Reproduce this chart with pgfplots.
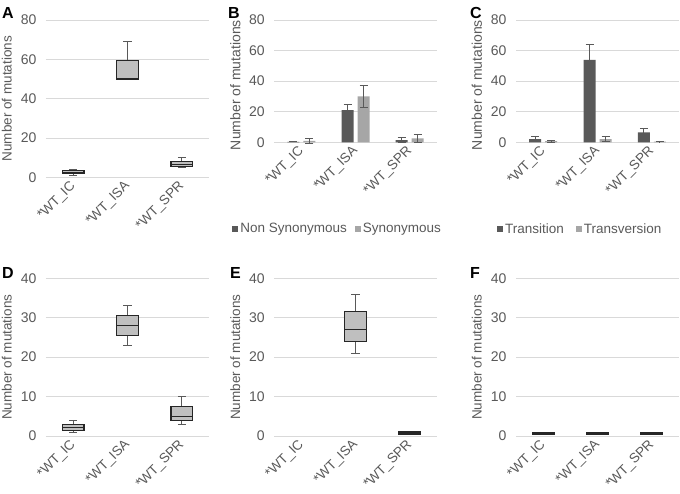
\documentclass[border=0pt]{standalone}
\usepackage{fontspec}
\setmainfont{Liberation Sans}
\usepackage{pgfplots}
\pgfplotsset{compat=1.18}
\usepgfplotslibrary{statistics}
\definecolor{gridc}{HTML}{D9D9D9}
\definecolor{txt}{HTML}{595959}
\definecolor{darkbar}{HTML}{595959}
\definecolor{lightbar}{HTML}{A6A6A6}
\definecolor{boxfill}{HTML}{BFBFBF}
\definecolor{boxedge}{HTML}{262626}
\definecolor{whisk}{HTML}{595959}
\pgfplotsset{
  panel/.style={
    scale only axis, anchor=south west,
    xmin=-0.5, xmax=2.5, ymin=0,
    xtick={0,1,2}, xticklabels={*WT\_IC,*WT\_ISA,*WT\_SPR},
    axis line style={draw=none},
    major tick length=0pt,
    ymajorgrids, grid style={gridc, line width=0.9pt},
    tick label style={font=\fontsize{14}{16}\selectfont, text=txt},
    /pgf/number format/assume math mode=true,
    yticklabel style={xshift=-6pt},
    xticklabel style={yshift=-6pt, xshift=1pt, rotate=45, anchor=east, inner sep=1pt, font=\fontsize{13.5}{15}\selectfont},
    ylabel={Number of mutations},
    every axis y label/.style={at={(axis description cs:-0.24,0.5)}, rotate=90, anchor=center, font=\fontsize{13.5}{15}\selectfont, text=txt},
    clip=false,
    boxplot/draw direction=y,
    boxplot/every box/.style={draw=boxedge, fill=boxfill, line width=1.2pt},
    boxplot/every whisker/.style={draw=whisk, line width=1pt},
    boxplot/every median/.style={draw=boxedge, line width=1.2pt},
    boxplot/box extend=0.4,
    boxplot/whisker extend=0.15,
  },
  barpanel/.style={
    panel, ybar=4pt, bar width=12pt,
    legend columns=2, legend cell align=left,
    legend image code/.code={\fill[##1] (0pt,-3pt) rectangle (6pt,3pt);},
    every axis y label/.append style={at={(axis description cs:-0.24,0.468)}, font=\fontsize{14}{16}\selectfont},
  },
  errs/.style={error bars/.cd, y dir=both, y explicit,
    error bar style={draw=whisk, line width=1pt},
    error mark options={rotate=90, mark size=4pt, draw=whisk, line width=1pt}},
}
\begin{document}
\begin{tikzpicture}
\useasboundingbox (0pt,0pt) rectangle (680pt,493pt);
% ---------- A ----------
\begin{axis}[panel, at={(46pt,315.7pt)}, width=163pt, height=157.3pt,
  ymax=80, ytick={0,20,40,60,80}]
\addplot[boxplot prepared={draw position=0, lower whisker=1, lower quartile=2, median=2.6, upper quartile=3.5, upper whisker=4}] coordinates {};
\addplot[boxplot prepared={draw position=1, lower whisker=50, lower quartile=50, median=50, upper quartile=59.6, upper whisker=69}] coordinates {};
\addplot[boxplot prepared={draw position=2, lower whisker=5, lower quartile=5.4, median=6.5, upper quartile=8.1, upper whisker=10}] coordinates {};
\end{axis}
% ---------- B ----------
\begin{axis}[barpanel, at={(274.3pt,350.7pt)}, width=162.4pt, height=122.3pt,
  ymax=80, ytick={0,20,40,60,80},
  legend style={at={(axis description cs:-0.26,-0.709)}, anchor=west, draw=none, fill=none, inner sep=0pt,
    font=\fontsize{13.5}{15}\selectfont, text=txt,
    /tikz/every even column/.append style={column sep=6pt}}]
\addplot[fill=darkbar, draw=none, errs] coordinates {(0,0.2) +- (0,0) (1,21) +- (0,3.8) (2,1.5) +- (0,1.5)};
\addplot[fill=lightbar, draw=none, errs] coordinates {(0,1) +- (0,1.5) (1,30) +- (0,7.2) (2,2.6) +- (0,2.5)};
\legend{Non Synonymous, Synonymous}
\end{axis}
% ---------- C ----------
\begin{axis}[barpanel, at={(516pt,350.7pt)}, width=163pt, height=122.3pt,
  ymax=80, ytick={0,20,40,60,80},
  legend style={at={(axis description cs:-0.117,-0.709)}, anchor=west, draw=none, fill=none, inner sep=0pt,
    font=\fontsize{13.5}{15}\selectfont, text=txt,
    /tikz/every even column/.append style={column sep=10pt}}]
\addplot[fill=darkbar, draw=none, errs] coordinates {(0,2) +- (0,1.6) (1,54) +- (0,10) (2,6.5) +- (0,2.5)};
\addplot[fill=lightbar, draw=none, errs] coordinates {(0,0.7) +- (0,0.8) (1,2) +- (0,1.6) (2,0.5) +- (0,0.2)};
\legend{Transition, Transversion}
\end{axis}
% ---------- D ----------
\begin{axis}[panel, at={(46pt,57pt)}, width=163pt, height=157.7pt,
  ymax=40, ytick={0,10,20,30,40}]
\addplot[boxplot prepared={draw position=0, lower whisker=1, lower quartile=1.4, median=2.1, upper quartile=3, upper whisker=4}] coordinates {};
\addplot[boxplot prepared={draw position=1, lower whisker=23, lower quartile=25.5, median=28, upper quartile=30.5, upper whisker=33}] coordinates {};
\addplot[boxplot prepared={draw position=2, lower whisker=3, lower quartile=4, median=5, upper quartile=7.5, upper whisker=10}] coordinates {};
\end{axis}
% ---------- E ----------
\begin{axis}[panel, at={(274.3pt,57pt)}, width=162.4pt, height=157.7pt,
  ymax=40, ytick={0,10,20,30,40}]
\addplot[boxplot prepared={draw position=1, lower whisker=21, lower quartile=24, median=27, upper quartile=31.5, upper whisker=36}] coordinates {};
\addplot[boxplot prepared={draw position=2, lower whisker=0.5, lower quartile=0.5, median=0.75, upper quartile=1, upper whisker=1}] coordinates {};
\end{axis}
% ---------- F ----------
\begin{axis}[panel, at={(516pt,57pt)}, width=163pt, height=157.7pt,
  ymax=40, ytick={0,10,20,30,40}]
\addplot[boxplot prepared={draw position=0, lower whisker=0.3, lower quartile=0.3, median=0.5, upper quartile=0.75, upper whisker=1}] coordinates {};
\addplot[boxplot prepared={draw position=1, lower whisker=0.3, lower quartile=0.3, median=0.5, upper quartile=0.75, upper whisker=1}] coordinates {};
\addplot[boxplot prepared={draw position=2, lower whisker=0.3, lower quartile=0.3, median=0.5, upper quartile=0.75, upper whisker=1}] coordinates {};
\end{axis}
% ---------- panel letters ----------
\begin{scope}[every node/.style={anchor=north west, inner sep=0pt, font=\bfseries\fontsize{16}{18}\selectfont}]
\node at (2pt,486pt) {A};
\node at (228pt,486pt) {B};
\node at (470pt,486pt) {C};
\node at (2pt,226pt) {D};
\node at (230pt,226pt) {E};
\node at (470pt,226pt) {F};
\end{scope}
\end{tikzpicture}
\end{document}
